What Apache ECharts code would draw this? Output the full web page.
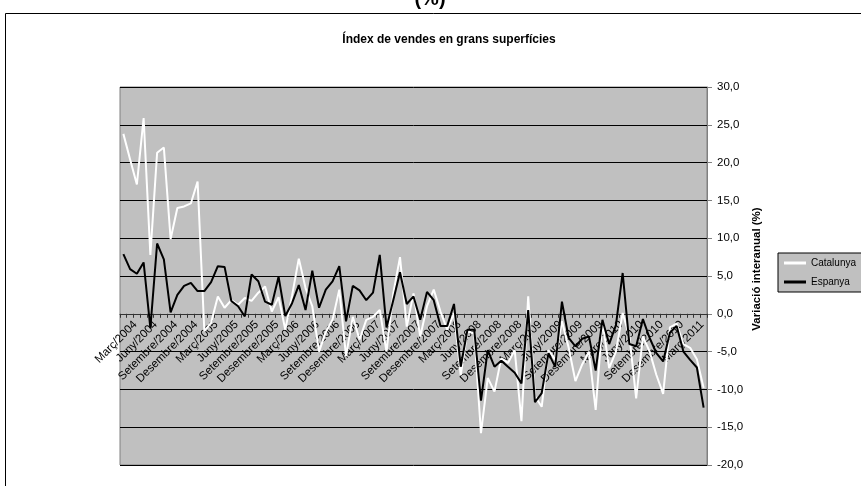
<!DOCTYPE html>
<html>
<head>
<meta charset="utf-8">
<script src="https://cdn.jsdelivr.net/npm/echarts@6/dist/echarts.min.js"></script>
<style>
  html, body { margin: 0; padding: 0; background: #fff; }
  #chart { width: 861px; height: 486px; }
</style>
</head>
<body>
<div id="chart"></div>
<script>
// mesos de març/2004 a maig/2011
const categories = [
  "Març/2004", "Abril/2004", "Maig/2004", "Juny/2004", "Juliol/2004", "Agost/2004", "Setembre/2004", "Octubre/2004", "Novembre/2004", "Desembre/2004",
  "Gener/2005", "Febrer/2005", "Març/2005", "Abril/2005", "Maig/2005", "Juny/2005", "Juliol/2005", "Agost/2005", "Setembre/2005", "Octubre/2005", "Novembre/2005", "Desembre/2005",
  "Gener/2006", "Febrer/2006", "Març/2006", "Abril/2006", "Maig/2006", "Juny/2006", "Juliol/2006", "Agost/2006", "Setembre/2006", "Octubre/2006", "Novembre/2006", "Desembre/2006",
  "Gener/2007", "Febrer/2007", "Març/2007", "Abril/2007", "Maig/2007", "Juny/2007", "Juliol/2007", "Agost/2007", "Setembre/2007", "Octubre/2007", "Novembre/2007", "Desembre/2007",
  "Gener/2008", "Febrer/2008", "Març/2008", "Abril/2008", "Maig/2008", "Juny/2008", "Juliol/2008", "Agost/2008", "Setembre/2008", "Octubre/2008", "Novembre/2008", "Desembre/2008",
  "Gener/2009", "Febrer/2009", "Març/2009", "Abril/2009", "Maig/2009", "Juny/2009", "Juliol/2009", "Agost/2009", "Setembre/2009", "Octubre/2009", "Novembre/2009", "Desembre/2009",
  "Gener/2010", "Febrer/2010", "Març/2010", "Abril/2010", "Maig/2010", "Juny/2010", "Juliol/2010", "Agost/2010", "Setembre/2010", "Octubre/2010", "Novembre/2010", "Desembre/2010",
  "Gener/2011", "Febrer/2011", "Març/2011", "Abril/2011", "Maig/2011"
];

const catalunya = [
  23.8, 20.4, 17.1, 25.9, 7.8, 21.3, 22.0, 9.9, 14.0, 14.2,
  14.6, 17.5, -2.3, -1.2, 2.3, 0.8, 1.8, 1.2, 2.1, 1.7,
  2.8, 3.6, 0.3, 2.2, -2.1, 2.4, 7.3, 3.4, 1.0, -5.0,
  -2.4, -0.8, 3.2, -5.6, -0.4, -3.4, -0.8, -0.4, 0.5, -5.0,
  2.7, 7.5, -1.7, 2.7, -3.0, 1.0, 3.2, 0.3, -2.1, 0.1,
  -8.1, -2.3, -2.6, -15.8, -8.5, -10.3, -5.9, -6.5, -4.8, -14.2,
  2.3, -10.9, -12.3, -4.8, -6.1, -1.0, -4.5, -8.9, -6.7, -5.0,
  -12.7, -1.0, -7.2, -5.0, 0.1, -3.0, -11.2, -3.0, -5.0, -8.1,
  -10.6, -1.8, -1.3, -4.0, -4.5, -6.0, -9.8
];

const espanya = [
  7.9, 5.9, 5.3, 6.8, -1.9, 9.3, 7.2, 0.2, 2.5, 3.7,
  4.1, 3.0, 3.0, 4.2, 6.3, 6.2, 1.7, 1.0, -0.35, 5.2,
  4.3, 1.6, 1.2, 4.9, -0.3, 1.4, 3.8, 0.5, 5.7, 0.8,
  3.2, 4.3, 6.3, -1.0, 3.7, 3.1, 1.8, 2.8, 7.8, -1.8,
  1.8, 5.5, 1.3, 2.3, -0.8, 2.9, 1.8, -1.6, -1.6, 1.3,
  -7.0, -2.1, -2.1, -11.5, -4.8, -7.0, -6.2, -7.0, -7.8, -9.2,
  0.5, -11.7, -10.5, -5.2, -7.0, 1.6, -3.2, -4.3, -3.3, -3.0,
  -7.5, -0.8, -4.0, -1.5, 5.4, -4.0, -4.3, -0.7, -3.2, -5.2,
  -6.3, -2.5, -1.6, -5.0, -6.1, -7.1, -12.4
];

const FONT = "'Liberation Sans', Arial, sans-serif";

// l'eix de categories es dibuixa a l'altura del 0 (Excel)
const GRID_LEFT = 120, GRID_RIGHT = 154, GRID_TOP = 87, GRID_BOTTOM = 21;
const Y_MIN = -20, Y_MAX = 30;
const plotH = 486 - GRID_TOP - GRID_BOTTOM;
const zeroOffset = -plotH * (0 - Y_MIN) / (Y_MAX - Y_MIN);
// les etiquetes d'Excel queden una mica desplaçades cap a la dreta
const LABEL_SHIFT = 12;

const myChart = echarts.init(document.getElementById("chart"));

const option = {
  animation: false,
  backgroundColor: "#fff",
  textStyle: { fontFamily: FONT },
  title: {
    text: "Índex de vendes en grans superfícies",
    left: 444,
    textAlign: "center",
    top: 29,
    textStyle: { fontFamily: FONT, fontSize: 12, fontWeight: "bold", color: "#000" }
  },
  graphic: [
    // marc del gràfic (retallat per la dreta i per baix)
    {
      type: "rect",
      shape: { x: 5.5, y: 13.5, width: 900, height: 500 },
      style: { fill: null, stroke: "#000", lineWidth: 1 },
      silent: true
    },
    // resta del títol superior, tallat
    {
      type: "text",
      x: 430, y: 9,
      style: {
        text: "(%)", fill: "#000", font: "bold 20px " + FONT,
        textAlign: "center", textVerticalAlign: "bottom"
      },
      silent: true
    },
    // nom de l'eix vertical
    {
      type: "text",
      x: 757, y: 269,
      rotation: Math.PI / 2,
      style: {
        text: "Variació interanual (%)", fill: "#000", font: "bold 11.5px " + FONT,
        textAlign: "center", textVerticalAlign: "middle"
      },
      silent: true
    }
  ],
  legend: {
    orient: "vertical",
    left: 778,
    top: 253,
    padding: [4, 6, 4, 6],
    itemGap: 7,
    itemWidth: 22,
    itemHeight: 3,
    icon: "rect",
    backgroundColor: "#c0c0c0",
    borderColor: "#000",
    borderWidth: 1,
    textStyle: { fontFamily: FONT, fontSize: 10, color: "#000", lineHeight: 12 },
    data: ["Catalunya", "Espanya"]
  },
  grid: [
    {
      left: GRID_LEFT,
      right: GRID_RIGHT,
      top: GRID_TOP,
      bottom: GRID_BOTTOM,
      containLabel: false,
      outerBoundsMode: "none",
      show: true,
      backgroundColor: "#c0c0c0",
      borderColor: "#808080",
      borderWidth: 1
    },
    // graella auxiliar només per a les etiquetes de l'eix X
    {
      left: GRID_LEFT + LABEL_SHIFT,
      right: GRID_RIGHT - LABEL_SHIFT,
      top: GRID_TOP,
      bottom: GRID_BOTTOM,
      containLabel: false,
      outerBoundsMode: "none",
      show: false
    }
  ],
  xAxis: [
    {
      type: "category",
      gridIndex: 0,
      data: categories,
      boundaryGap: true,
      position: "bottom",
      offset: zeroOffset,
      axisLine: { onZero: false, lineStyle: { color: "#333", width: 1 } },
      axisTick: { show: true, interval: 0, length: 4, lineStyle: { color: "#333" } },
      axisLabel: { show: false },
      splitLine: { show: false }
    },
    {
      type: "category",
      gridIndex: 1,
      data: categories,
      boundaryGap: true,
      position: "bottom",
      offset: zeroOffset,
      axisLine: { show: false, onZero: false },
      axisTick: { show: false },
      axisLabel: {
        interval: 2,
        rotate: 45,
        margin: 9,
        fontSize: 11.5,
        fontFamily: FONT,
        color: "#000"
      },
      splitLine: { show: false }
    }
  ],
  yAxis: [
    {
      type: "value",
      gridIndex: 0,
      position: "right",
      min: Y_MIN,
      max: Y_MAX,
      interval: 5,
      axisLine: { show: true, lineStyle: { color: "#808080" } },
      axisTick: { show: true, length: 5, lineStyle: { color: "#808080" } },
      axisLabel: {
        margin: 10,
        fontSize: 11.5,
        fontFamily: FONT,
        color: "#000",
        formatter: (v) => v.toFixed(1).replace(".", ",")
      },
      splitLine: { show: true, lineStyle: { color: "#000", width: 1 } }
    },
    {
      type: "value",
      gridIndex: 1,
      min: Y_MIN,
      max: Y_MAX,
      show: false
    }
  ],
  series: [
    {
      name: "Catalunya",
      type: "line",
      data: catalunya,
      showSymbol: false,
      color: "#fff",
      lineStyle: { color: "#fff", width: 2 }
    },
    {
      name: "Espanya",
      type: "line",
      data: espanya,
      showSymbol: false,
      color: "#000",
      lineStyle: { color: "#000", width: 2 }
    }
  ]
};

myChart.setOption(option);
</script>
</body>
</html>
